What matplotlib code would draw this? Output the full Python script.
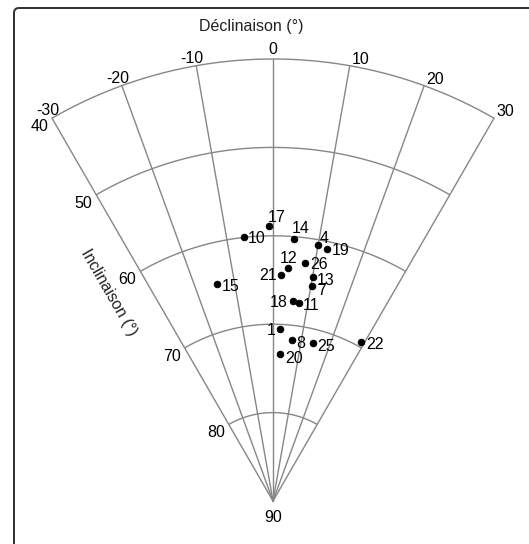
import numpy as np
import matplotlib
matplotlib.use("Agg")
import matplotlib.pyplot as plt
from matplotlib.patches import FancyBboxPatch
from matplotlib.transforms import IdentityTransform

plt.rcParams['font.family'] = ['Liberation Sans', 'DejaVu Sans']

# ---- data ----
site_ids = ["17", "10", "14", "4", "19", "12", "26", "21", "13", "7",
            "15", "18", "11", "1", "8", "25", "22", "20"]
declination = [-0.8, -6.3, 4.6, 10.0, 12.0, 3.6, 7.6, 2.1, 10.1, 10.3,
               -14.5, 5.8, 7.4, 2.3, 6.9, 14.2, 28.9, 2.7]
inclination = [58.9, 59.9, 60.3, 60.6, 60.8, 63.6, 62.8, 64.4, 64.3, 65.3,
               64.6, 67.3, 67.4, 70.5, 71.7, 71.6, 69.4, 73.3]

dec_ticks = [-30, -20, -10, 0, 10, 20, 30]
inc_ticks = [40, 50, 60, 70, 80]
inc_center = 90

# label placement (pixels: dx, baseline dy downward, ha)
label_style = {
    "17": (-1, -4, "left"), "14": (-2, -6, "left"), "4": (1, -2, "left"),
    "19": (5, 6, "left"), "12": (-8, -5, "left"), "26": (5, 6, "left"),
    "10": (4, 6, "left"), "21": (-4, 5, "right"), "13": (4, 8, "left"),
    "7": (5, 9, "left"), "15": (5, 7, "left"), "18": (-6, 6, "right"),
    "11": (4, 7, "left"), "1": (-4, 6, "right"), "8": (4, 8, "left"),
    "25": (4, 8, "left"), "22": (5, 7, "left"), "20": (5, 9, "left"),
}

W, H = 529, 544
DPI = 72
fig = plt.figure(figsize=(W / DPI, H / DPI), dpi=DPI)

cx, cy = 273, 501        # centre in pixels (from top)
R = 442                  # pixel radius of the 40 deg ring
rmax = 90 - inc_ticks[0]
ax = fig.add_axes([(cx - R) / W, (H - cy - R) / H, 2 * R / W, 2 * R / H],
                  projection='polar')
ax.set_theta_zero_location('N')
ax.set_theta_direction(-1)
ax.set_rlim(0, rmax)
ax.axis('off')

gcol = '#878787'
glw = 1.4
th = np.radians(np.linspace(dec_ticks[0], dec_ticks[-1], 300))
for inc in inc_ticks:
    ax.plot(th, np.full_like(th, 90 - inc), color=gcol, lw=glw, clip_on=False,
            solid_capstyle='butt')
for d in dec_ticks:
    ax.plot([np.radians(d)] * 2, [0, rmax], color=gcol, lw=glw, clip_on=False)

# points
theta = np.radians(declination)
rr = 90 - np.array(inclination)
ax.plot(theta, rr, 'o', color='black', ms=6.5, clip_on=False, zorder=5)

fs = 16
for sid, t, r in zip(site_ids, theta, rr):
    dx, dy, ha = label_style[sid]
    ax.annotate(sid, xy=(t, r), xytext=(dx, -dy), textcoords='offset points',
                ha=ha, va='baseline', fontsize=fs, color='black', zorder=6)

# declination tick labels
for d in dec_ticks:
    if d < 0:
        off, ha = (7, 3), 'right'
    elif d == 0:
        off, ha = (0, 5), 'center'
    else:
        off, ha = (2, 2), 'left'
    ax.annotate(f"{d}", xy=(np.radians(d), rmax), xytext=off,
                textcoords='offset points', ha=ha, va='baseline', fontsize=fs)

# inclination tick labels
for inc in inc_ticks:
    ax.annotate(f"{inc}", xy=(np.radians(dec_ticks[0]), 90 - inc), xytext=(-4, -13),
                textcoords='offset points', ha='right', va='baseline', fontsize=fs)
ax.annotate(f"{inc_center}", xy=(0, 0), xytext=(0, -21), textcoords='offset points',
            ha='center', va='baseline', fontsize=fs)

# axis titles
fig.text(251 / W, (H - 31) / H, "Déclinaison (°)", ha='center', va='baseline',
         fontsize=fs, color='#222222')
fig.text(109 / W, (H - 292) / H, "Inclinaison (°)", ha='center', va='center',
         rotation=-60, rotation_mode='anchor', fontsize=fs, color='#222222')

# frame
frame = FancyBboxPatch((14, -20), 560, H - 8 + 20, boxstyle="round,pad=0,rounding_size=5",
                       transform=IdentityTransform(), fill=False, edgecolor='#333333',
                       lw=2, clip_on=False)
fig.patches.append(frame)

fig.savefig("out.png", dpi=DPI, facecolor='white')
